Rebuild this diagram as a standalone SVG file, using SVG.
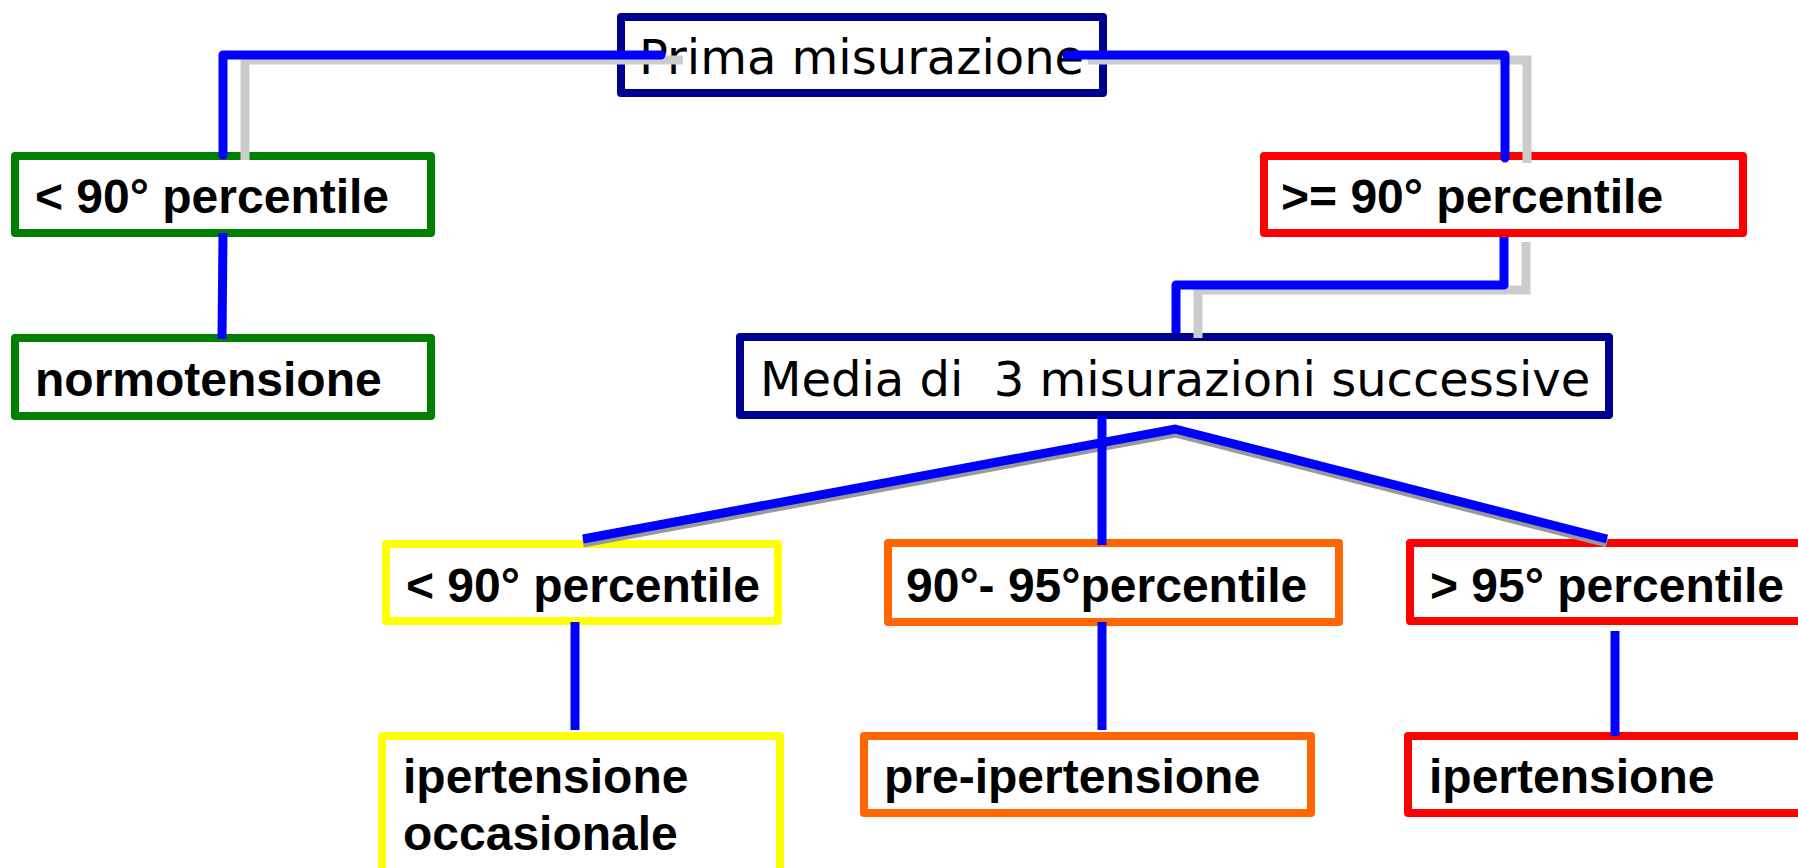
<svg xmlns="http://www.w3.org/2000/svg" width="1798" height="868" viewBox="0 0 1798 868">
<style>
.box{fill:#ffffff;stroke-width:8;stroke-linejoin:round}
.navy{stroke:#000090}
.green{stroke:#008000}
.red{stroke:#ff0000}
.yellow{stroke:#ffff00}
.orange{stroke:#ff6600}
.t{font-family:"DejaVu Sans",sans-serif;font-size:48px;fill:#000000}
.b{font-family:"Liberation Sans",Arial,sans-serif;font-weight:bold;font-size:48px;fill:#000000}
.c{fill:none;stroke:#0000ff;stroke-width:9}
.sh{fill:none;stroke:#cccccc;stroke-width:9}
.sh2{fill:none;stroke:#999999;stroke-width:9}
</style>
<rect width="1798" height="868" fill="#ffffff"/>
<g id="prima"><rect class="box navy" x="621" y="17" width="482" height="76"/><text class="t" x="639" y="74">Prima misurazione</text></g>
<g id="lt90"><rect class="box green" x="15" y="156" width="416" height="77"/><text class="b" x="35" y="213">&lt; 90° percentile</text></g>
<g id="normo"><rect class="box green" x="15" y="338" width="416" height="78"/><text class="b" x="35" y="396">normotensione</text></g>
<g id="ge90"><rect class="box red" x="1264" y="156" width="479" height="77"/><text class="b" x="1281" y="213">&gt;= 90° percentile</text></g>
<g id="media"><rect class="box navy" x="740" y="337" width="869" height="78"/><text class="t" x="760" y="396" xml:space="preserve" style="white-space:pre">Media di  3 misurazioni successive</text></g>
<g id="y90"><rect class="box yellow" x="386" y="544" width="392" height="77"/><text class="b" x="406" y="602">&lt; 90° percentile</text></g>
<g id="o9095"><rect class="box orange" x="888" y="543" width="451" height="79"/><text class="b" x="906" y="602">90°- 95°percentile</text></g>
<g id="r95"><rect class="box red" x="1410" y="543" width="400" height="78"/><text class="b" x="1430" y="602">&gt; 95° percentile</text></g>
<g id="occas"><rect class="box yellow" x="382" y="736" width="398" height="150"/><text class="b" x="403" y="793">ipertensione</text><text class="b" x="403" y="850">occasionale</text></g>
<g id="preiper"><rect class="box orange" x="864" y="736" width="447" height="77"/><text class="b" x="884" y="793">pre-ipertensione</text></g>
<g id="iper"><rect class="box red" x="1408" y="736" width="400" height="77"/><text class="b" x="1429" y="793">ipertensione</text></g>
<g id="connectors">
<path class="sh" d="M683 60 H245 V160"/>
<path class="sh" d="M1088 60 H1527 V163"/>
<path class="sh" d="M1526 242 V290 H1198 V338"/>
<path class="c" d="M661 55 H223 V155" stroke-linejoin="round" stroke-linecap="round"/>
<path class="c" d="M1067 55 H1505 V158" stroke-linejoin="round" stroke-linecap="round"/>
<path class="c" d="M1504 237 V285 H1176 V333" stroke-linejoin="round"/>
<line class="c" x1="223" y1="233" x2="222" y2="339"/>
<path class="sh2" d="M583 543 L1175 433 L1607 543"/>
<path class="c" d="M583 539 L1175 429 L1607 539"/>
<line class="c" x1="1102" y1="416" x2="1102" y2="545" stroke-width="8"/>
<line class="c" x1="575" y1="622" x2="575" y2="730" stroke-width="8"/>
<line class="c" x1="1102" y1="622" x2="1102" y2="730" stroke-width="8"/>
<line class="c" x1="1615" y1="631" x2="1615" y2="736" stroke-width="8"/>
</g>
</svg>
